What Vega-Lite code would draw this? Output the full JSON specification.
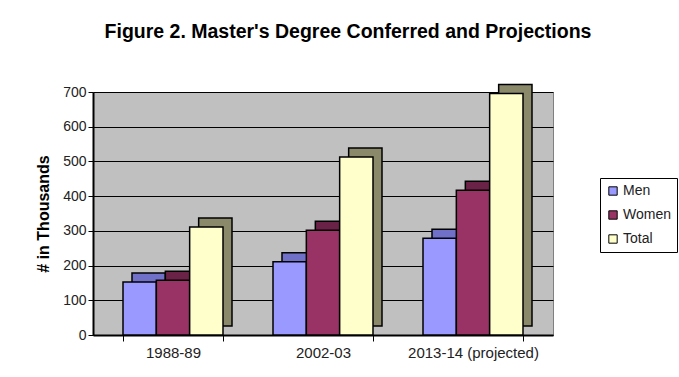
{
  "$schema": "https://vega.github.io/schema/vega-lite/v6.json",
  "autosize": "none",
  "width": 460,
  "height": 243,
  "padding": {"left": 93, "top": 92, "right": 126, "bottom": 42},
  "background": "white",
  "title": {
    "text": "Figure 2. Master's Degree Conferred and Projections",
    "font": "Liberation Sans",
    "fontSize": 19.5,
    "fontWeight": "bold",
    "color": "black",
    "anchor": "middle",
    "frame": "group",
    "dx": 25,
    "offset": 41
  },
  "data": {
    "values": [
      {"year": "1988-89", "series": "Men", "value": 153},
      {"year": "1988-89", "series": "Women", "value": 158},
      {"year": "1988-89", "series": "Total", "value": 311},
      {"year": "2002-03", "series": "Men", "value": 211},
      {"year": "2002-03", "series": "Women", "value": 302},
      {"year": "2002-03", "series": "Total", "value": 513},
      {"year": "2013-14  (projected)", "series": "Men", "value": 279},
      {"year": "2013-14  (projected)", "series": "Women", "value": 417},
      {"year": "2013-14  (projected)", "series": "Total", "value": 696}
    ]
  },
  "encoding": {
    "x": {
      "field": "year",
      "type": "nominal",
      "sort": null,
      "title": null,
      "scale": {"paddingInner": 0.3333333, "paddingOuter": 0.2},
      "axis": {
        "labelAngle": 0,
        "labelFont": "Liberation Sans",
        "labelFontSize": 15,
        "labelColor": "#222",
        "labelPadding": 4,
        "labelOffset": 0,
        "tickBand": "extent",
        "tickColor": "black",
        "tickSize": 6,
        "domainColor": "black",
        "domainWidth": 2,
        "grid": false
      }
    },
    "y": {
      "field": "value",
      "type": "quantitative",
      "title": "# in Thousands",
      "scale": {"domain": [0, 700]},
      "axis": {
        "values": [0, 100, 200, 300, 400, 500, 600, 700],
        "labelFont": "Liberation Sans",
        "labelFontSize": 14,
        "labelColor": "#222",
        "labelPadding": 2,
        "titleFont": "Liberation Sans",
        "titleFontSize": 16,
        "titleFontWeight": "bold",
        "titleColor": "black",
        "titlePadding": 11,
        "tickColor": "black",
        "tickSize": 5,
        "domainColor": "black",
        "domainWidth": 2,
        "gridColor": "black",
        "gridWidth": 1.2
      }
    }
  },
  "layer": [
    {
      "mark": {"type": "bar", "yOffset": -9, "stroke": "black", "strokeWidth": 1.5},
      "encoding": {
        "xOffset": {
          "field": "series",
          "type": "nominal",
          "sort": ["Men", "Women", "Total"],
          "scale": {"range": [9, 109]}
        },
        "color": {
          "field": "series",
          "type": "nominal",
          "scale": {"domain": ["Men", "Women", "Total"], "range": ["#7070c8", "#6a2247", "#8a8a6a"]},
          "legend": null
        }
      }
    },
    {
      "mark": {"type": "bar", "stroke": "black", "strokeWidth": 1.5},
      "encoding": {
        "xOffset": {
          "field": "series",
          "type": "nominal",
          "sort": ["Men", "Women", "Total"],
          "scale": {"range": [0, 100]}
        },
        "color": {
          "field": "series",
          "type": "nominal",
          "scale": {"domain": ["Men", "Women", "Total"], "range": ["#9999ff", "#993366", "#ffffcc"]},
          "legend": {
            "title": null,
            "orient": "none",
            "legendX": 507,
            "legendY": 86,
            "strokeColor": "black",
            "fillColor": "white",
            "padding": 6,
            "symbolType": "square",
            "symbolSize": 70,
            "symbolStrokeColor": "black",
            "symbolStrokeWidth": 1,
            "labelFont": "Liberation Sans",
            "labelFontSize": 14,
            "labelColor": "#222",
            "rowPadding": 10,
            "labelOffset": 3
          }
        }
      }
    }
  ],
  "resolve": {"scale": {"color": "independent", "xOffset": "independent"}},
  "config": {
    "view": {"fill": "#c0c0c0", "stroke": "#808080"},
    "bar": {"binSpacing": 0}
  }
}
